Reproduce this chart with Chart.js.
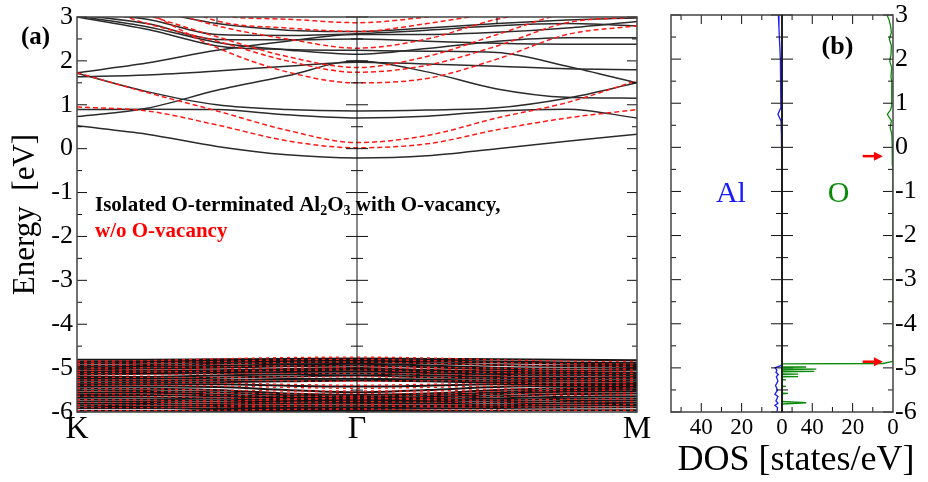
<!DOCTYPE html>
<html>
<head>
<meta charset="utf-8">
<script src="https://cdn.jsdelivr.net/npm/chart.js@4.4.0/dist/chart.umd.min.js"></script>
<style>
  body { margin: 0; background: #fff; }
  #wrap { position: relative; width: 928px; height: 482px; }
  canvas { position: absolute; left: 0; top: 0; }
</style>
</head>
<body>
<div id="wrap">
  <canvas id="bands" width="928" height="482"></canvas>
  <canvas id="dosAl" width="928" height="482"></canvas>
  <canvas id="dosO" width="928" height="482"></canvas>
</div>
<script>
// k path K -> Gamma -> M, sampled at 9 points
const kPath = [0, 0.25, 0.5, 0.75, 1, 1.25, 1.5, 1.75, 2];
const kTickPos = [0, 1, 2];
const kTickLabels = ['K', 'Γ', 'M'];

// bands with O-vacancy (black), energies in eV at each kPath point
const vacCond = [
  [0.52, 0.33, 0.05, -0.14, -0.21, -0.16, 0.0, 0.17, 0.33],
  [0.73, 0.92, 1.33, 1.66, 2.0, 1.75, 1.36, 1.17, 1.15],
  [1.72, 1.3, 1.0, 0.89, 0.86, 0.88, 0.93, 1.15, 1.5],
  [0.89, 0.9, 0.89, 0.77, 0.7, 0.74, 0.86, 0.9, 0.7],
  [1.73, 1.95, 2.24, 2.45, 2.6, 2.6, 2.65, 2.75, 2.9],
  [1.64, 1.68, 1.77, 1.88, 1.97, 1.93, 1.88, 1.82, 1.8],
  [3.0, 2.72, 2.34, 2.26, 2.24, 2.22, 2.19, 1.88, 1.5],
  [3.02, 2.78, 2.42, 2.25, 2.15, 2.28, 2.45, 2.53, 2.53],
  [3.05, 2.85, 2.49, 2.48, 2.5, 2.45, 2.4, 2.38, 2.38],
  [3.1, 2.95, 2.6, 2.58, 2.62, 2.7, 2.8, 2.85, 2.8],
  [3.3, 3.15, 2.85, 2.7, 2.67, 2.75, 2.85, 2.93, 2.98]
];
const vacValence = [
  [-4.81, -4.81, -4.8, -4.79, -4.78, -4.79, -4.8, -4.81, -4.82],
  [-4.86, -4.85, -4.83, -4.82, -4.81, -4.83, -4.85, -4.87, -4.88],
  [-4.9, -4.88, -4.86, -4.84, -4.83, -4.85, -4.87, -4.9, -4.92],
  [-4.95, -4.93, -4.9, -4.88, -4.86, -4.89, -4.93, -4.95, -4.95],
  [-4.99, -4.97, -4.95, -4.92, -4.9, -4.94, -4.99, -5.01, -5.0],
  [-5.03, -5.01, -4.99, -4.96, -4.94, -4.98, -5.03, -5.06, -5.04],
  [-5.08, -5.06, -5.05, -5.02, -5.0, -5.04, -5.08, -5.1, -5.1],
  [-5.11, -5.1, -5.08, -5.05, -5.04, -5.07, -5.11, -5.13, -5.13],
  [-5.15, -5.13, -5.11, -5.09, -5.08, -5.11, -5.15, -5.17, -5.16],
  [-5.2, -5.2, -5.17, -5.14, -5.12, -5.16, -5.2, -5.22, -5.2],
  [-5.24, -5.24, -5.22, -5.19, -5.17, -5.21, -5.24, -5.25, -5.24],
  [-5.28, -5.29, -5.27, -5.25, -5.24, -5.26, -5.29, -5.3, -5.29],
  [-5.33, -5.33, -5.32, -5.3, -5.28, -5.3, -5.33, -5.35, -5.34],
  [-5.37, -5.37, -5.37, -5.4, -5.42, -5.4, -5.37, -5.37, -5.37],
  [-5.41, -5.42, -5.43, -5.5, -5.55, -5.5, -5.43, -5.41, -5.41],
  [-5.46, -5.47, -5.5, -5.58, -5.61, -5.58, -5.5, -5.46, -5.45],
  [-5.51, -5.52, -5.55, -5.62, -5.65, -5.62, -5.55, -5.5, -5.49],
  [-5.56, -5.56, -5.6, -5.66, -5.68, -5.66, -5.59, -5.54, -5.53],
  [-5.61, -5.61, -5.64, -5.69, -5.71, -5.69, -5.64, -5.59, -5.58],
  [-5.66, -5.67, -5.69, -5.73, -5.74, -5.73, -5.69, -5.65, -5.64],
  [-5.71, -5.72, -5.74, -5.76, -5.77, -5.76, -5.73, -5.7, -5.69],
  [-5.76, -5.77, -5.79, -5.8, -5.8, -5.8, -5.78, -5.75, -5.74],
  [-5.81, -5.82, -5.84, -5.85, -5.85, -5.85, -5.83, -5.8, -5.79],
  [-5.86, -5.87, -5.88, -5.89, -5.89, -5.88, -5.87, -5.85, -5.84],
  [-5.91, -5.91, -5.93, -5.93, -5.93, -5.92, -5.91, -5.9, -5.89],
  [-5.97, -5.97, -5.98, -5.98, -5.98, -5.98, -5.97, -5.96, -5.96]
];

// bands w/o O-vacancy (red dashed)
const pureCond = [
  [1.73, 1.28, 0.86, 0.42, 0.14, 0.3, 0.7, 1.05, 1.55],
  [0.95, 0.86, 0.54, 0.18, 0.02, 0.11, 0.43, 0.7, 0.89],
  [3.8, 3.1, 2.3, 1.75, 1.5, 1.6, 2.04, 2.6, 2.8],
  [3.4, 2.85, 2.45, 2.0, 1.74, 1.9, 2.34, 2.87, 3.0],
  [3.6, 3.05, 2.55, 2.1, 1.85, 2.1, 2.6, 3.1, 3.3],
  [3.9, 3.3, 2.8, 2.5, 2.29, 2.5, 2.95, 3.2, 3.4],
  [4.2, 3.6, 2.91, 2.75, 2.67, 2.85, 3.1, 3.3, 3.5],
  [4.4, 3.8, 3.05, 2.95, 2.87, 3.0, 3.2, 3.4, 3.6]
];
const pureValence = [
  [-4.84, -4.83, -4.79, -4.76, -4.75, -4.77, -4.81, -4.84, -4.85],
  [-4.89, -4.88, -4.85, -4.81, -4.8, -4.83, -4.87, -4.9, -4.91],
  [-4.94, -4.93, -4.91, -4.87, -4.86, -4.89, -4.93, -4.95, -4.96],
  [-5.0, -4.99, -4.97, -4.95, -4.95, -4.98, -5.0, -5.02, -5.02],
  [-5.05, -5.04, -5.02, -5.0, -4.99, -5.02, -5.05, -5.07, -5.07],
  [-5.1, -5.09, -5.07, -5.05, -5.04, -5.08, -5.1, -5.12, -5.12],
  [-5.15, -5.15, -5.13, -5.12, -5.12, -5.14, -5.17, -5.18, -5.17],
  [-5.21, -5.21, -5.21, -5.2, -5.2, -5.21, -5.23, -5.24, -5.23],
  [-5.27, -5.27, -5.27, -5.29, -5.3, -5.29, -5.29, -5.29, -5.28],
  [-5.33, -5.33, -5.34, -5.37, -5.39, -5.37, -5.35, -5.34, -5.33],
  [-5.39, -5.39, -5.41, -5.44, -5.46, -5.44, -5.41, -5.39, -5.39],
  [-5.46, -5.47, -5.5, -5.52, -5.52, -5.52, -5.48, -5.46, -5.45],
  [-5.52, -5.53, -5.56, -5.58, -5.58, -5.57, -5.53, -5.51, -5.5],
  [-5.58, -5.59, -5.62, -5.64, -5.64, -5.62, -5.59, -5.57, -5.56],
  [-5.64, -5.65, -5.68, -5.7, -5.7, -5.68, -5.65, -5.62, -5.62],
  [-5.72, -5.73, -5.75, -5.72, -5.68, -5.72, -5.73, -5.71, -5.7],
  [-5.78, -5.78, -5.8, -5.78, -5.76, -5.78, -5.78, -5.77, -5.76],
  [-5.84, -5.84, -5.85, -5.83, -5.82, -5.84, -5.84, -5.83, -5.83],
  [-5.9, -5.9, -5.89, -5.87, -5.86, -5.88, -5.89, -5.89, -5.89],
  [-5.97, -5.97, -5.96, -5.94, -5.93, -5.95, -5.96, -5.96, -5.96]
];

// projected DOS (states/eV) vs energy
const alEnergy = [3.0, 2.7, 2.4, 2.0, 1.6, 1.2, 0.9, 0.75, 0.6, 0.3, 0.0, -0.3, -0.5, -4.9, -4.95, -5.0, -5.05, -5.1, -5.15, -5.2, -5.3, -5.4, -5.5, -5.6, -5.65, -5.75, -5.8, -5.85, -5.9, -6.0];
const alDos = [1.8, 1.5, 1.2, 0.8, 0.6, 0.5, 0.6, 2.0, 0.5, 0.3, 0.2, 0.1, 0, 0, 0.5, 3.5, 2.5, 3.0, 1.8, 2.8, 2.0, 3.2, 2.2, 3.5, 2.0, 3.0, 2.0, 3.5, 2.2, 2.5];
const oEnergy = [3.0, 2.9, 2.75, 2.6, 2.45, 2.3, 2.1, 1.95, 1.8, 1.6, 1.45, 1.3, 1.1, 0.95, 0.85, 0.75, 0.6, 0.45, 0.3, 0.1, -0.1, -0.25, -0.4, -0.45,
  -4.85, -4.9, -4.93, -4.96, -4.98, -5.0, -5.03, -5.06, -5.08, -5.11, -5.14, -5.17, -5.2, -5.23, -5.27, -5.32, -5.42, -5.5, -5.58, -5.68, -5.79, -5.9, -6.0];
const oDos = [3.0, 2.0, 1.2, 0.8, 1.8, 0.8, 1.0, 1.6, 0.6, 1.0, 0.5, 0.8, 0.5, 0.6, 1.2, 2.8, 0.8, 1.4, 0.6, 0.4, 0.3, 0.4, 0.3, 0,
  0, 5, 160, 90, 43, 90, 38, 90, 39, 90, 47, 90, 47, 90, 53, 90, 53, 90, 52, 90, 43, 90, 90];
const dosMax = 55;
const dosTicks = [0, 20, 40];
const arrowEnergies = [-0.2, -4.86];
const arrowFrom = 15, arrowTo = 5;

const serif = "'Liberation Serif', 'Times New Roman', serif";
Chart.defaults.font.family = serif;
Chart.defaults.color = '#000';

function line(ctx, x1, y1, x2, y2) {
  ctx.beginPath();
  ctx.moveTo(x1, y1);
  ctx.lineTo(x2, y2);
  ctx.stroke();
}

const bandSet = (band, color, dash, width, order) => ({
  data: kPath.map((k, i) => ({ x: k, y: band[i] })),
  borderColor: color,
  borderWidth: width,
  borderDash: dash,
  pointRadius: 0,
  cubicInterpolationMode: 'monotone',
  order: order
});
const redSets = pureCond.map(b => bandSet(b, '#ff1a1a', [5, 3], 1.5, 0))
  .concat(pureValence.map(b => bandSet(b, '#ff1a1a', [3, 4], 1.4, 0)));
const blackSets = vacCond.map(b => bandSet(b, '#2b2b2b', [], 1.5, 1))
  .concat(vacValence.map(b => bandSet(b, '#141414', [], 2, 1)));

// frame, inner ticks and captions of panel (a)
const bandFrame = {
  id: 'bandFrame',
  afterDatasetsDraw(chart) {
    const { ctx, chartArea: a, scales: { x, y } } = chart;
    ctx.save();
    ctx.strokeStyle = '#111';
    ctx.lineWidth = 1;
    const gx = x.getPixelForValue(1);
    line(ctx, gx, a.top, gx, a.bottom);
    for (let e = -6; e <= 3; e += 0.5) {
      const py = y.getPixelForValue(e);
      const len = Number.isInteger(e) ? 10 : 5;
      line(ctx, a.left, py, a.left + len, py);
      line(ctx, a.right, py, a.right - len, py);
      line(ctx, gx - len - 1, py, gx + len + 1, py);
    }
    for (const k of [0.5, 1.5]) {
      const px = x.getPixelForValue(k);
      line(ctx, px, a.top, px, a.top + 7);
      line(ctx, px, a.bottom, px, a.bottom - 7);
    }
    ctx.strokeStyle = '#444';
    ctx.lineWidth = 1.5;
    ctx.strokeRect(a.left, a.top, a.width, a.height);

    ctx.fillStyle = '#000';
    ctx.font = 'bold 25px ' + serif;
    ctx.textBaseline = 'middle';
    ctx.fillText('(a)', 21, 38);

    // caption with subscripts
    const parts = [['Isolated O-terminated Al', 0], ['2', 1], ['O', 0], ['3', 1], [' with O-vacancy,', 0]];
    let tx = a.left + 18;
    const ty = a.top + 194;
    ctx.textBaseline = 'alphabetic';
    for (const [t, sub] of parts) {
      ctx.font = sub ? 'bold 14px ' + serif : 'bold 21px ' + serif;
      ctx.fillText(t, tx, sub ? ty + 4 : ty);
      tx += ctx.measureText(t).width;
    }
    ctx.fillStyle = '#ff0000';
    ctx.font = 'bold 21px ' + serif;
    ctx.fillText('w/o O-vacancy', a.left + 18, ty + 26);
    ctx.restore();
  }
};

new Chart(document.getElementById('bands'), {
  type: 'line',
  data: { datasets: redSets.concat(blackSets) },
  options: {
    responsive: false,
    animation: false,
    events: [],
    layout: { padding: { left: 0, top: 15, right: 291, bottom: 0 } },
    plugins: { legend: { display: false }, tooltip: { enabled: false } },
    scales: {
      x: {
        type: 'linear', min: 0, max: 2,
        afterBuildTicks: s => { s.ticks = kTickPos.map(v => ({ value: v })); },
        afterFit: s => { s.height = 70; },
        grid: { display: false, drawTicks: false },
        border: { display: false },
        ticks: {
          font: { size: 32, lineHeight: 1 }, padding: 2, maxRotation: 0, autoSkip: false,
          callback: (v, i) => kTickLabels[i]
        }
      },
      y: {
        type: 'linear', min: -6, max: 3,
        afterFit: s => { s.width = 77; },
        grid: { display: false, drawTicks: false },
        border: { display: false },
        ticks: { stepSize: 1, font: { size: 26, lineHeight: 1 }, padding: 4 },
        title: { display: true, text: 'Energy  [eV]', font: { size: 31, lineHeight: 1 }, padding: { top: 10, bottom: 0 } }
      }
    }
  },
  plugins: [bandFrame]
});

const dosAxis = () => ({
  type: 'linear', min: 0, max: dosMax, reverse: true,
  afterBuildTicks: s => { s.ticks = dosTicks.map(v => ({ value: v })); },
  afterFit: s => { s.height = 70; },
  grid: { display: false, drawTicks: false },
  border: { display: false },
  ticks: { font: { size: 23, lineHeight: 1 }, padding: 4, maxRotation: 0, autoSkip: false }
});

// frame, inner ticks and captions of panel (b)
function dosFrame(name) {
  return {
    id: 'dosFrame' + name,
    afterDatasetsDraw(chart) {
      const { ctx, chartArea: a, scales: { x, y } } = chart;
      ctx.save();
      ctx.strokeStyle = '#111';
      ctx.lineWidth = 1;
      for (let e = -6; e <= 3; e += 0.5) {
        const py = y.getPixelForValue(e);
        const len = Number.isInteger(e) ? 10 : 5;
        if (name === 'Al') {
          line(ctx, a.left, py, a.left + len, py);
          line(ctx, a.right - len - 1, py, a.right + len + 1, py);
        } else {
          line(ctx, a.right, py, a.right - len, py);
        }
      }
      for (let v = 10; v <= 50; v += 10) {
        const px = x.getPixelForValue(v);
        const len = v % 20 === 0 ? 9 : 5;
        line(ctx, px, a.top, px, a.top + len);
        line(ctx, px, a.bottom, px, a.bottom - len);
      }
      ctx.strokeStyle = '#444';
      ctx.lineWidth = 1.5;
      ctx.strokeRect(a.left, a.top, a.width, a.height);
      ctx.strokeStyle = '#000';
      ctx.lineWidth = 1;
      const mid = name === 'Al' ? a.right : a.left;
      line(ctx, mid, a.top, mid, a.bottom);

      ctx.textAlign = 'center';
      ctx.textBaseline = 'middle';
      const ly = y.getPixelForValue(-1.05);
      if (name === 'Al') {
        ctx.fillStyle = '#1a1aff';
        ctx.font = '30px ' + serif;
        ctx.fillText('Al', a.left + a.width * 0.54, ly);
      } else {
        ctx.fillStyle = '#0a8a0a';
        ctx.font = '30px ' + serif;
        ctx.fillText('O', a.left + a.width * 0.51, ly);
        ctx.fillStyle = '#000';
        ctx.font = 'bold 26px ' + serif;
        ctx.fillText('(b)', a.left + a.width * 0.5, a.top + 32);
        ctx.font = '36px ' + serif;
        ctx.fillText('DOS [states/eV]', a.left + 14, 461);

        ctx.fillStyle = '#ff0000';
        ctx.strokeStyle = '#ff0000';
        ctx.lineWidth = 2.5;
        const x1 = x.getPixelForValue(arrowFrom);
        const x2 = x.getPixelForValue(arrowTo);
        for (const e of arrowEnergies) {
          const py = y.getPixelForValue(e);
          line(ctx, x1, py, x2 - 7, py);
          ctx.beginPath();
          ctx.moveTo(x2, py);
          ctx.lineTo(x2 - 9, py - 4.5);
          ctx.lineTo(x2 - 9, py + 4.5);
          ctx.closePath();
          ctx.fill();
        }
      }
      ctx.restore();
    }
  };
}

const dosOptions = (padding, yAxis) => ({
  responsive: false,
  animation: false,
  events: [],
  layout: { padding: padding },
  plugins: { legend: { display: false }, tooltip: { enabled: false } },
  scales: { x: dosAxis(), y: yAxis }
});

new Chart(document.getElementById('dosAl'), {
  type: 'line',
  data: {
    datasets: [{
      data: alEnergy.map((e, i) => ({ x: alDos[i], y: e })),
      borderColor: '#1a1aff', borderWidth: 1.3, pointRadius: 0
    }]
  },
  options: dosOptions({ left: 671, top: 15, right: 146, bottom: 0 },
    { type: 'linear', min: -6, max: 3, display: false }),
  plugins: [dosFrame('Al')]
});

new Chart(document.getElementById('dosO'), {
  type: 'line',
  data: {
    datasets: [{
      data: oEnergy.map((e, i) => ({ x: oDos[i], y: e })),
      borderColor: '#0a8a0a', borderWidth: 1.3, pointRadius: 0
    }]
  },
  options: dosOptions({ left: 782, top: 15, right: 0, bottom: 0 }, {
    type: 'linear', min: -6, max: 3, position: 'right',
    afterFit: s => { s.width = 35; },
    grid: { display: false, drawTicks: false },
    border: { display: false },
    ticks: { stepSize: 1, font: { size: 26, lineHeight: 1 }, padding: 2 }
  }),
  plugins: [dosFrame('O')]
});
</script>
</body>
</html>
